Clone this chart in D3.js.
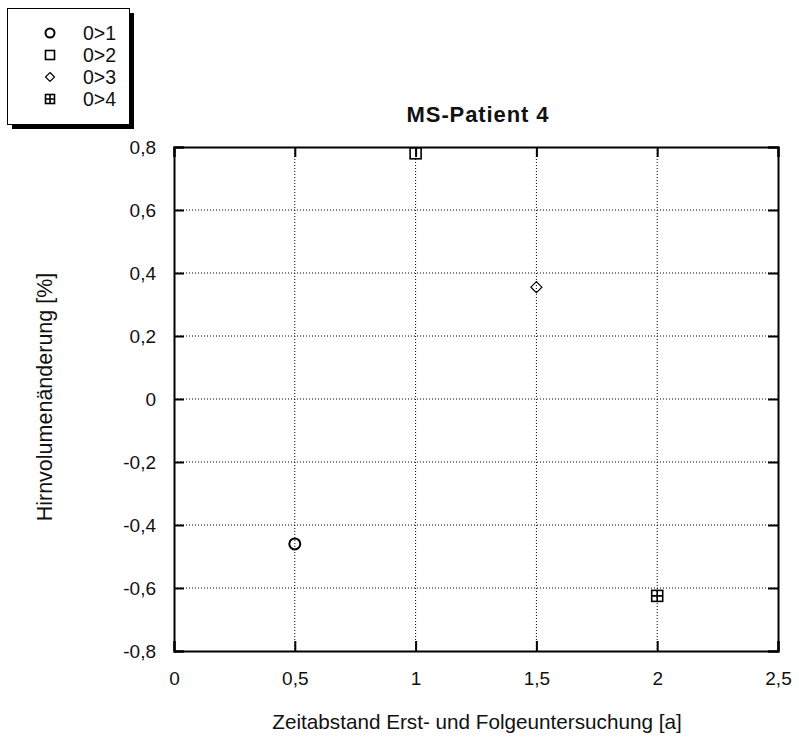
<!DOCTYPE html>
<html>
<head>
<meta charset="utf-8">
<script src="https://cdn.jsdelivr.net/npm/d3@7"></script>
<style>
  body { margin: 0; background: #fff; }
  svg text { font-family: Arial, "Liberation Sans", sans-serif; fill: #111; }
</style>
</head>
<body>
<svg id="chartSVG" width="799" height="738"></svg>
<script>

// Zeitabstand [a] / Hirnvolumenänderung [%] pro Untersuchungspaar
let seriesNames = ['0>1', '0>2', '0>3', '0>4'];
let seriesShapes = ['circle', 'square', 'diamond', 'squarePlus'];
let timeGap = [0.5, 1, 1.5, 2];
let volumeChange = [-0.46, 0.78, 0.355, -0.625];

let xTicks = [0, 0.5, 1, 1.5, 2, 2.5];
let yTicks = [-0.8, -0.6, -0.4, -0.2, 0, 0.2, 0.4, 0.6, 0.8];

let titleText = 'MS-Patient 4';
let xLabelText = 'Zeitabstand Erst- und Folgeuntersuchung [a]';
let yLabelText = 'Hirnvolumenänderung [%]';

let margin = {left: 174, top: 147, right: 21, bottom: 87};
let width = 799 - margin.left - margin.right;
let height = 738 - margin.top - margin.bottom;

let svg = d3.select('svg#chartSVG');
let fmt = (v) => String(v).replace('.', ',');

let sx = d3.scaleLinear().domain([0, 2.5]).range([0, width]);
let sy = d3.scaleLinear().domain([-0.8, 0.8]).range([height, 0]);

let plot = svg.append('g')
  .attr('transform', 'translate(' + margin.left + ',' + margin.top + ')');

// dotted grid
for (let i=1; i<xTicks.length-1; i++) {
  plot.append('line')
  .attr('x1', sx(xTicks[i])).attr('x2', sx(xTicks[i]))
  .attr('y1', 0).attr('y2', height)
  .attr('stroke', '#000')
  .attr('stroke-width', 1)
  .attr('stroke-dasharray', '1,2');
}
for (let i=1; i<yTicks.length-1; i++) {
  plot.append('line')
  .attr('x1', 0).attr('x2', width)
  .attr('y1', sy(yTicks[i])).attr('y2', sy(yTicks[i]))
  .attr('stroke', '#000')
  .attr('stroke-width', 1)
  .attr('stroke-dasharray', '1,2');
}

// axes with inward ticks on all four sides
let xAxisBottom = d3.axisBottom(sx).tickValues(xTicks).tickSize(-10).tickFormat(fmt).tickPadding(18);
let xAxisTop = d3.axisTop(sx).tickValues(xTicks).tickSize(-10).tickFormat('');
let yAxisLeft = d3.axisLeft(sy).tickValues(yTicks).tickSize(-10).tickFormat(fmt).tickPadding(18);
let yAxisRight = d3.axisRight(sy).tickValues(yTicks).tickSize(-10).tickFormat('');

let gx = plot.append('g').attr('transform', 'translate(0,' + height + ')').call(xAxisBottom);
let gxt = plot.append('g').call(xAxisTop);
let gy = plot.append('g').call(yAxisLeft);
let gyr = plot.append('g').attr('transform', 'translate(' + width + ',0)').call(yAxisRight);

[gx, gxt, gy, gyr].forEach(function(g) {
  g.selectAll('.domain').attr('stroke', '#000').attr('stroke-width', 2);
  g.selectAll('.tick line').attr('stroke', '#000').attr('stroke-width', 2);
  g.selectAll('.tick text')
  .style('font-family', 'Arial, "Liberation Sans", sans-serif')
  .style('font-size', '19px')
  .attr('fill', '#111');
});
gx.selectAll('.tick text').attr('dy', '0.85em');

// marker shapes, hollow like the original
function drawMarker(g, shape, cx, cy, r) {
  if (shape === 'circle') {
    g.append('circle').attr('cx', cx).attr('cy', cy).attr('r', r)
    .attr('fill', 'none').attr('stroke', '#000').attr('stroke-width', 2);
  } else if (shape === 'square') {
    g.append('rect').attr('x', cx - r).attr('y', cy - r).attr('width', 2*r).attr('height', 2*r)
    .attr('fill', 'none').attr('stroke', '#000').attr('stroke-width', 1.6);
  } else if (shape === 'diamond') {
    g.append('path')
    .attr('d', 'M' + cx + ',' + (cy - r) + 'L' + (cx + r) + ',' + cy + 'L' + cx + ',' + (cy + r) + 'L' + (cx - r) + ',' + cy + 'Z')
    .attr('fill', 'none').attr('stroke', '#000').attr('stroke-width', 1.2);
  } else {
    g.append('rect').attr('x', cx - r).attr('y', cy - r).attr('width', 2*r).attr('height', 2*r)
    .attr('fill', 'none').attr('stroke', '#000').attr('stroke-width', 1.6);
    g.append('path')
    .attr('d', 'M' + cx + ',' + (cy - r) + 'V' + (cy + r) + 'M' + (cx - r) + ',' + cy + 'H' + (cx + r))
    .attr('stroke', '#000').attr('stroke-width', 1.6);
  }
}

for (let i=0; i<timeGap.length; i++) {
  drawMarker(plot, seriesShapes[i], sx(timeGap[i]), sy(volumeChange[i]), 5.5);
}

// title and axis labels
svg.append('text')
  .attr('x', margin.left + width / 2 + 2).attr('y', 122)
  .attr('text-anchor', 'middle')
  .style('font-size', '22px').style('font-weight', 'bold')
  .style('letter-spacing', '0.9px')
  .text(titleText);

svg.append('text')
  .attr('x', margin.left + width / 2 + 1).attr('y', 729)
  .attr('text-anchor', 'middle')
  .style('font-size', '20.7px')
  .text(xLabelText);

svg.append('text')
  .attr('transform', 'translate(52,' + (margin.top + height / 2 - 2) + ') rotate(-90)')
  .attr('text-anchor', 'middle')
  .style('font-size', '21.5px')
  .text(yLabelText);

// legend with drop shadow
let legend = svg.append('g');
legend.append('rect').attr('x', 12).attr('y', 13).attr('width', 122).attr('height', 116).attr('fill', '#000');
legend.append('rect').attr('x', 7.5).attr('y', 8.5).attr('width', 122).attr('height', 116)
  .attr('fill', '#fff').attr('stroke', '#000').attr('stroke-width', 1);

for (let i=0; i<seriesNames.length; i++) {
  let ly = 33 + i * 22;
  drawMarker(legend, seriesShapes[i], 50, ly, 4.5);
  legend.append('text')
  .attr('x', 83).attr('y', ly + 7)
  .style('font-size', '19.5px')
  .text(seriesNames[i]);
}

</script>
</body>
</html>
